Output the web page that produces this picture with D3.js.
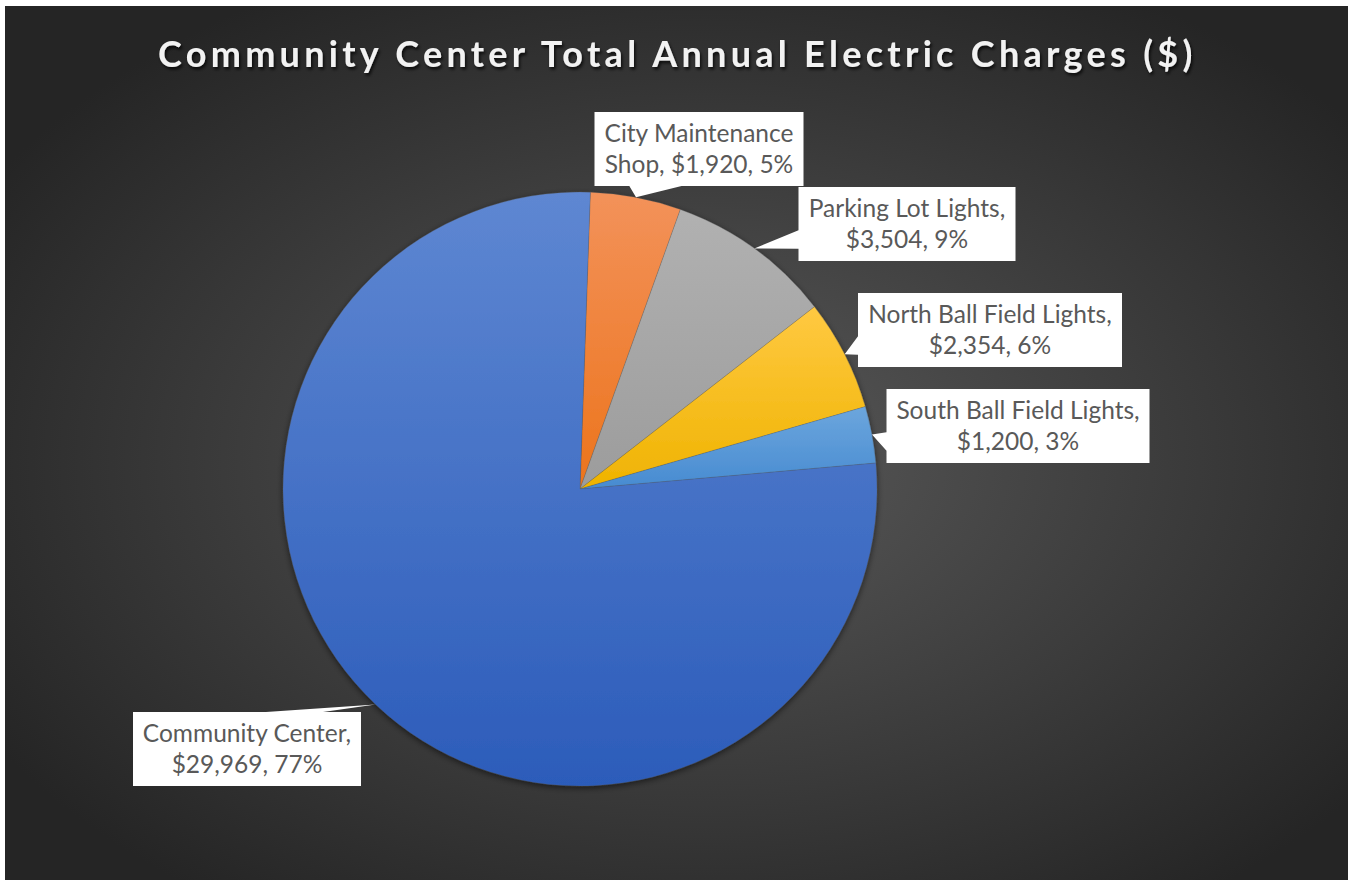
<!DOCTYPE html>
<html>
<head>
<meta charset="utf-8">
<script src="https://cdn.jsdelivr.net/npm/d3@7"></script>
<style>
  html, body { margin: 0; padding: 0; background: #ffffff; }
  svg { display: block; }
</style>
</head>
<body>
<svg id="chart" width="1348" height="880"></svg>
<script>
// ---- data ----
const categories = ["City Maintenance Shop", "Parking Lot Lights", "North Ball Field Lights", "South Ball Field Lights", "Community Center"];
const values = [1920, 3504, 2354, 1200, 29969];
const titleText = "Community Center Total Annual Electric Charges ($)";
// word index where label's first line ends (name wraps differently per label)
const labelBreaks = [2, 3, 4, 4, 2];

// ---- styles / layout ----
const colorsTop = ["#F3925A", "#B1B1B1", "#FFC942", "#6CA6DD", "#5E87D2"];
const colorsBottom = ["#EC741C", "#9C9C9C", "#EFB300", "#478BD1", "#2C5CBA"];
const labelCenters = [[699, 149], [907, 224], [990, 330], [1018, 426], [247, 749]];

const W = 1348, H = 880;
const svg = d3.select("#chart");
const defs = svg.append("defs");

// background
const bg = defs.append("radialGradient").attr("id", "bgGrad")
  .attr("cx", "52%").attr("cy", "52%").attr("r", "62%");
bg.append("stop").attr("offset", "0%").attr("stop-color", "#595959");
bg.append("stop").attr("offset", "100%").attr("stop-color", "#252525");
svg.append("rect").attr("x", 5).attr("y", 6).attr("width", W - 5).attr("height", H - 6)
  .attr("fill", "url(#bgGrad)");

// title shadow
const tf = defs.append("filter").attr("id", "tshadow").attr("x", "-5%").attr("y", "-50%").attr("width", "110%").attr("height", "200%");
tf.append("feDropShadow").attr("dx", 1.5).attr("dy", 2.5).attr("stdDeviation", 1.6)
  .attr("flood-color", "#000").attr("flood-opacity", 0.75);

svg.append("text")
  .attr("x", 676.5).attr("y", 67)
  .attr("text-anchor", "middle")
  .attr("font-family", "Lato, 'Open Sans', sans-serif")
  .attr("font-weight", 700)
  .attr("font-size", 36)
  .attr("letter-spacing", 2.6)
  .attr("fill", "#F2F2F2")
  .attr("filter", "url(#tshadow)")
  .attr("textLength", 1037)
  .attr("lengthAdjust", "spacing")
  .text(titleText);

// pie
const cx = 580, cy = 489, R = 297;
const startOffset = 2 * Math.PI / 180;
const pie = d3.pie().sort(null).value(d => d)
  .startAngle(startOffset).endAngle(startOffset + 2 * Math.PI);
const arcs = pie(values);
const arc = d3.arc().innerRadius(0).outerRadius(R);
const total = d3.sum(values);

categories.forEach((c, i) => {
  const g = defs.append("linearGradient").attr("id", "sg" + i)
    .attr("x1", 0).attr("y1", 0).attr("x2", 0).attr("y2", 1);
  g.append("stop").attr("offset", "0%").attr("stop-color", colorsTop[i]);
  g.append("stop").attr("offset", "100%").attr("stop-color", colorsBottom[i]);
});

const pf = defs.append("filter").attr("id", "pshadow").attr("x", "-10%").attr("y", "-10%").attr("width", "120%").attr("height", "120%");
pf.append("feDropShadow").attr("dx", 0).attr("dy", 2).attr("stdDeviation", 3)
  .attr("flood-color", "#000").attr("flood-opacity", 0.55);

const pieG = svg.append("g").attr("transform", `translate(${cx},${cy})`).attr("filter", "url(#pshadow)");
pieG.selectAll("path").data(arcs).join("path")
  .attr("d", arc)
  .attr("fill", (d, i) => `url(#sg${i})`)
  .attr("stroke", "rgba(90,90,90,0.35)")
  .attr("stroke-width", 0.7);

// labels
const fmt = d3.format("$,");
const labelG = svg.append("g");
const fontSize = 24.5;
const lineGap = 31;

arcs.forEach((a, i) => {
  const words = categories[i].split(" ");
  const pct = Math.round(values[i] / total * 100) + "%";
  const nameWords1 = words.slice(0, labelBreaks[i]);
  const rest = words.slice(labelBreaks[i]);
  let line1, line2;
  if (rest.length) {
    line1 = nameWords1.join(" ");
    line2 = rest.join(" ") + ", " + fmt(values[i]) + ", " + pct;
  } else {
    line1 = nameWords1.join(" ") + ",";
    line2 = fmt(values[i]) + ", " + pct;
  }
  const [lx, ly] = labelCenters[i];
  const g = labelG.append("g");
  const callout = g.append("path").attr("fill", "#ffffff");
  const t1 = g.append("text").attr("x", lx).attr("y", ly - 7).text(line1);
  const t2 = g.append("text").attr("x", lx).attr("y", ly - 7 + lineGap).text(line2);
  [t1, t2].forEach(t => t.attr("text-anchor", "middle")
    .attr("font-family", "Lato, 'Open Sans', sans-serif")
    .attr("font-size", fontSize).attr("fill", "#595959"));
  const wText = Math.max(t1.node().getComputedTextLength(), t2.node().getComputedTextLength());
  const bw = Math.round(wText + 20), bh = 74;
  const x0 = lx - bw / 2, y0 = ly - bh / 2, x1 = x0 + bw, y1 = y0 + bh;
  // tip at the pie edge, slice mid angle
  const mid = (a.startAngle + a.endAngle) / 2;
  const tx = cx + R * Math.sin(mid), ty = cy - R * Math.cos(mid);
  const dx = (tx - lx) / bw, dy = (ty - ly) / bh;
  let pts;
  if (Math.abs(dx) > Math.abs(dy)) {
    const f = dy < 0 ? [2, 5] : [7, 10];
    const ya = y0 + bh * f[0] / 12, yb = y0 + bh * f[1] / 12;
    if (dx < 0) {
      pts = [[x0, y0], [x1, y0], [x1, y1], [x0, y1], [x0, yb], [tx, ty], [x0, ya]];
    } else {
      pts = [[x0, y0], [x1, y0], [x1, ya], [tx, ty], [x1, yb], [x1, y1], [x0, y1]];
    }
  } else {
    const f = dx < 0 ? [2, 5] : [7, 10];
    const xa = x0 + bw * f[0] / 12, xb = x0 + bw * f[1] / 12;
    if (dy < 0) {
      pts = [[x0, y0], [xa, y0], [tx, ty], [xb, y0], [x1, y0], [x1, y1], [x0, y1]];
    } else {
      pts = [[x0, y0], [x1, y0], [x1, y1], [xb, y1], [tx, ty], [xa, y1], [x0, y1]];
    }
  }
  callout.attr("d", d3.line()(pts) + "Z");
});
</script>
</body>
</html>
